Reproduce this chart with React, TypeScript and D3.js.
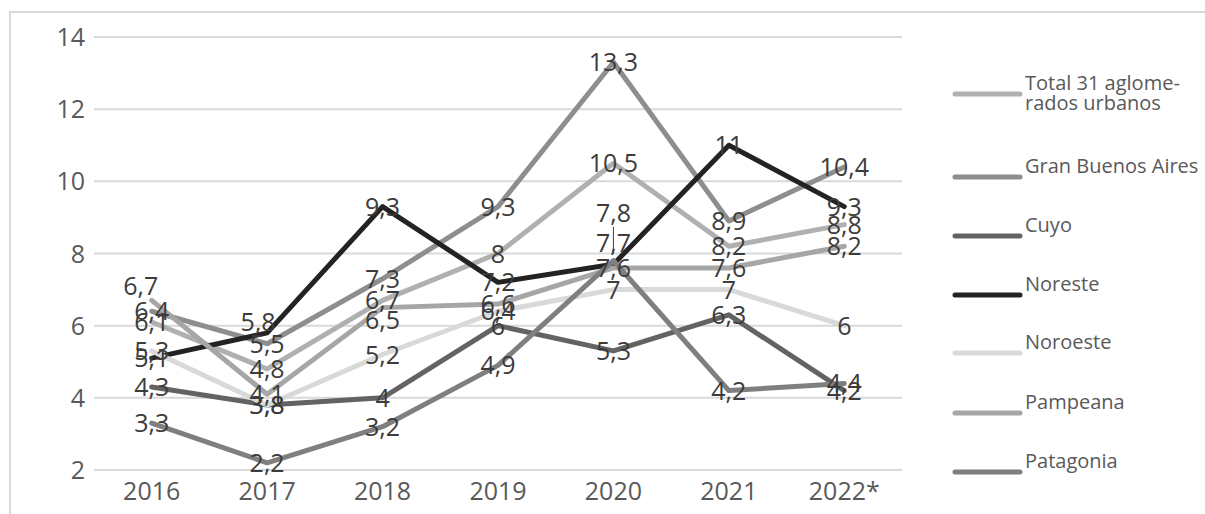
import React from "react";
import * as d3 from "d3";

// Regional series, percent values per year
const years = ["2016", "2017", "2018", "2019", "2020", "2021", "2022*"];
const total31 = [6.1, 4.8, 6.7, 8, 10.5, 8.2, 8.8];
const granBuenosAires = [6.4, 5.5, 7.3, 9.3, 13.3, 8.9, 10.4];
const cuyo = [4.3, 3.8, 4, 6, 5.3, 6.3, 4.2];
const noreste = [5.1, 5.8, 9.3, 7.2, 7.7, 11, 9.3];
const noroeste = [5.3, 3.8, 5.2, 6.4, 7, 7, 6];
const pampeana = [6.7, 4.1, 6.5, 6.6, 7.6, 7.6, 8.2];
const patagonia = [3.3, 2.2, 3.2, 4.9, 7.8, 4.2, 4.4];
const yTicks = [2, 4, 6, 8, 10, 12, 14];

const seriesList = [
  { name: ["Total 31 aglome-", "rados urbanos"], values: total31, color: "#b0b0b0" },
  { name: ["Gran Buenos Aires"], values: granBuenosAires, color: "#8e8e8e" },
  { name: ["Cuyo"], values: cuyo, color: "#636363" },
  { name: ["Noreste"], values: noreste, color: "#232323" },
  { name: ["Noroeste"], values: noroeste, color: "#d9d9d9" },
  { name: ["Pampeana"], values: pampeana, color: "#a6a6a6" },
  { name: ["Patagonia"], values: patagonia, color: "#7f7f7f" },
];

const W = 1205;
const H = 514;
const plot = { left: 94, right: 902, top: 37, bottom: 470 };
const FONT = "'Open Sans', sans-serif";

const fmt = (v: number) => String(v).replace(".", ",");

// labels nudged to stay legible where points crowd together: [series, year index, dx, dy, leader]
const labelOffsets: [number, number, number, number, boolean][] = [
  [6, 4, 0, -48, true],
  [3, 4, 0, -21, false],
  [3, 1, -9, -11, false],
  [5, 0, -11, -14, false],
  [5, 2, 0, 12, false],
];

export default function App() {
  const x = d3.scaleBand<string>().domain(years).range([plot.left, plot.right]);
  const cx = (yr: string) => (x(yr) ?? 0) + x.bandwidth() / 2;
  const y = d3.scaleLinear().domain([2, 14]).range([plot.bottom, plot.top]);

  const line = d3
    .line<number>()
    .x((_, i) => cx(years[i]))
    .y((d) => y(d));

  const legendY = [94, 177, 236, 295, 353, 413, 472];

  return (
    <svg
      width={W}
      height={H}
      style={{ position: "absolute", left: 0, top: 0, background: "#fff" }}
    >
      {/* chart frame */}
      <rect x={10} y={12} width={W} height={H} fill="none" stroke="#d9d9d9" strokeWidth={2} />

      {/* gridlines and y labels */}
      {yTicks.map((t) => (
        <g key={t}>
          <line x1={plot.left} x2={plot.right} y1={y(t)} y2={y(t)} stroke="#d9d9d9" strokeWidth={2} />
          <text
            x={85}
            y={y(t)}
            dy="0.36em"
            textAnchor="end"
            fontFamily={FONT}
            fontSize={25}
            fill="#595959"
          >
            {t}
          </text>
        </g>
      ))}

      {/* x labels */}
      {years.map((yr) => (
        <text
          key={yr}
          x={cx(yr)}
          y={500}
          textAnchor="middle"
          fontFamily={FONT}
          fontSize={25}
          fill="#595959"
        >
          {yr}
        </text>
      ))}

      {/* series lines */}
      {seriesList.map((s, i) => (
        <path
          key={i}
          d={line(s.values) ?? ""}
          fill="none"
          stroke={s.color}
          strokeWidth={5}
          strokeLinejoin="round"
          strokeLinecap="round"
        />
      ))}

      {/* data labels */}
      {seriesList.map((s, si) =>
        s.values.map((v, i) => {
          const off = labelOffsets.find((o) => o[0] === si && o[1] === i);
          const px = cx(years[i]) + (off ? off[2] : 0);
          const py = y(v) + (off ? off[3] : 0);
          return (
            <g key={`${si}-${i}`}>
              {off && off[4] && (
                <line x1={px} x2={px} y1={py + 14} y2={y(v) - 7} stroke="#404040" strokeWidth={1} />
              )}
              <text
                x={px}
                y={py}
                dy="0.36em"
                textAnchor="middle"
                fontFamily={FONT}
                fontSize={25}
                fill="#3c3c3c"
              >
                {fmt(v)}
              </text>
            </g>
          );
        })
      )}

      {/* legend */}
      {seriesList.map((s, i) => {
        const ly = legendY[i];
        const twoLine = s.name.length > 1;
        return (
          <g key={`lg-${i}`}>
            <line x1={955} x2={1020} y1={ly} y2={ly} stroke={s.color} strokeWidth={5} strokeLinecap="round" />
            {s.name.map((t, k) => (
              <text
                key={k}
                x={1025}
                y={twoLine ? ly - 4 + k * 20 : ly - 4}
                fontFamily={FONT}
                fontSize={20}
                fill="#595959"
              >
                {t}
              </text>
            ))}
          </g>
        );
      })}
    </svg>
  );
}
